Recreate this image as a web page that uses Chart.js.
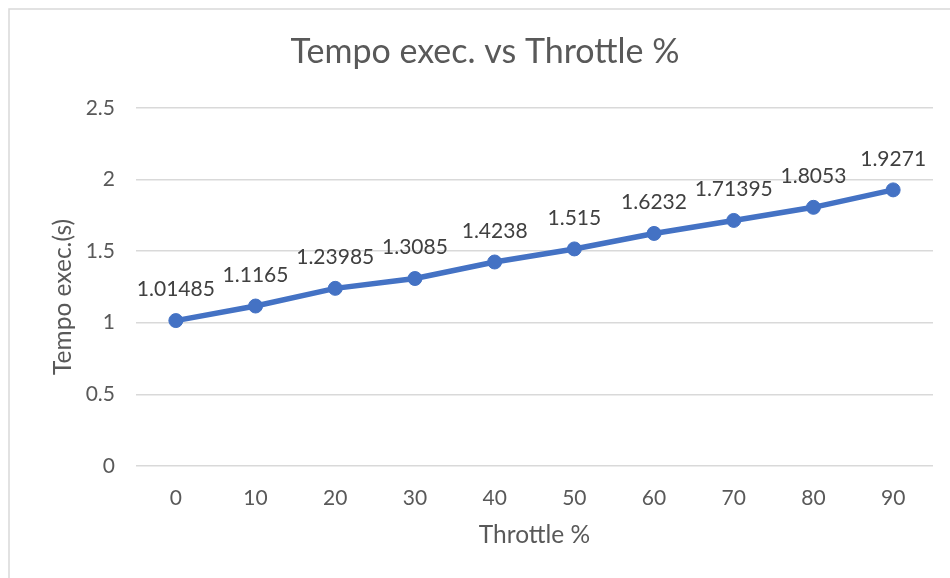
<!DOCTYPE html>
<html>
<head>
<meta charset="utf-8">
<script src="https://cdn.jsdelivr.net/npm/chart.js@4/dist/chart.umd.min.js"></script>
<style>
  html, body { margin: 0; padding: 0; background: #ffffff; }
  #wrap { position: relative; width: 950px; height: 578px; }
</style>
</head>
<body>
<div id="wrap"><canvas id="c" width="950" height="578"></canvas></div>
<script>
// ---- data ----
const throttle = ['0', '10', '20', '30', '40', '50', '60', '70', '80', '90'];
const tempoExec = [1.01485, 1.1165, 1.23985, 1.3085, 1.4238, 1.515, 1.6232, 1.71395, 1.8053, 1.9271];
const yTickLabels = ['0', '0.5', '1', '1.5', '2', '2.5'];
const chartTitle = 'Tempo exec. vs Throttle %';
const xTitle = 'Throttle %';
const yTitle = 'Tempo exec.(s)';

const FONT = 'Lato, Carlito, Calibri, sans-serif';
const GREY = '#595959';

const framePlugin = {
  id: 'frame',
  beforeDraw(chart) {
    const ctx = chart.ctx;
    ctx.save();
    ctx.fillStyle = '#ffffff';
    ctx.fillRect(0, 0, chart.width, chart.height);
    ctx.strokeStyle = '#d9d9d9';
    ctx.lineWidth = 1.5;
    ctx.strokeRect(9, 9, chart.width + 20, chart.height + 20);
    ctx.restore();
  }
};

const extrasPlugin = {
  id: 'extras',
  afterDatasetsDraw(chart) {
    const ctx = chart.ctx;
    const meta = chart.getDatasetMeta(0);
    ctx.save();
    ctx.font = '21px ' + FONT;
    ctx.fillStyle = '#404040';
    ctx.textAlign = 'center';
    ctx.textBaseline = 'middle';
    meta.data.forEach((pt, i) => {
      ctx.fillText(String(tempoExec[i]), pt.x, pt.y - 31);
    });
    // y axis title
    const ca = chart.chartArea;
    ctx.font = '24.5px ' + FONT;
    ctx.fillStyle = GREY;
    ctx.translate(63, (ca.top + ca.bottom) / 2 + 10);
    ctx.rotate(-Math.PI / 2);
    ctx.fillText(yTitle, 0, 0);
    ctx.restore();
  }
};

new Chart(document.getElementById('c'), {
  type: 'line',
  data: {
    labels: throttle,
    datasets: [{
      label: yTitle,
      data: tempoExec,
      borderColor: '#4472C4',
      backgroundColor: '#4472C4',
      borderWidth: 5.5,
      pointRadius: 7,
      pointBorderWidth: 1,
      pointBackgroundColor: '#4472C4',
      pointBorderColor: '#4472C4',
      tension: 0,
      fill: false
    }]
  },
  options: {
    responsive: false,
    animation: false,
    devicePixelRatio: 1,
    layout: { padding: { left: 37, right: 17, top: 0, bottom: 0 } },
    plugins: {
      legend: { display: false },
      tooltip: { enabled: false },
      title: {
        display: true,
        text: chartTitle,
        color: GREY,
        font: { family: FONT, size: 34, weight: 'normal' },
        padding: { top: 32, bottom: 35 }
      }
    },
    scales: {
      x: {
        type: 'category',
        offset: true,
        grid: { display: false, drawTicks: false },
        border: { display: false },
        ticks: { color: GREY, font: { family: FONT, size: 21 }, padding: 20, maxRotation: 0, autoSkip: false },
        title: {
          display: true,
          text: xTitle,
          color: GREY,
          font: { family: FONT, size: 24.5 },
          padding: { top: 0, bottom: 28 }
        },
        afterFit(scale) { scale.height = 112; }
      },
      y: {
        min: 0,
        max: 2.5,
        grid: { color: '#d9d9d9', lineWidth: 1.5, drawTicks: false },
        border: { display: false },
        ticks: {
          stepSize: 0.5,
          color: GREY,
          font: { family: FONT, size: 21 },
          padding: 21,
          callback: (v, i) => yTickLabels[i]
        },
        afterFit(scale) { scale.width = 99; }
      }
    }
  },
  plugins: [framePlugin, extrasPlugin]
});
</script>
</body>
</html>
